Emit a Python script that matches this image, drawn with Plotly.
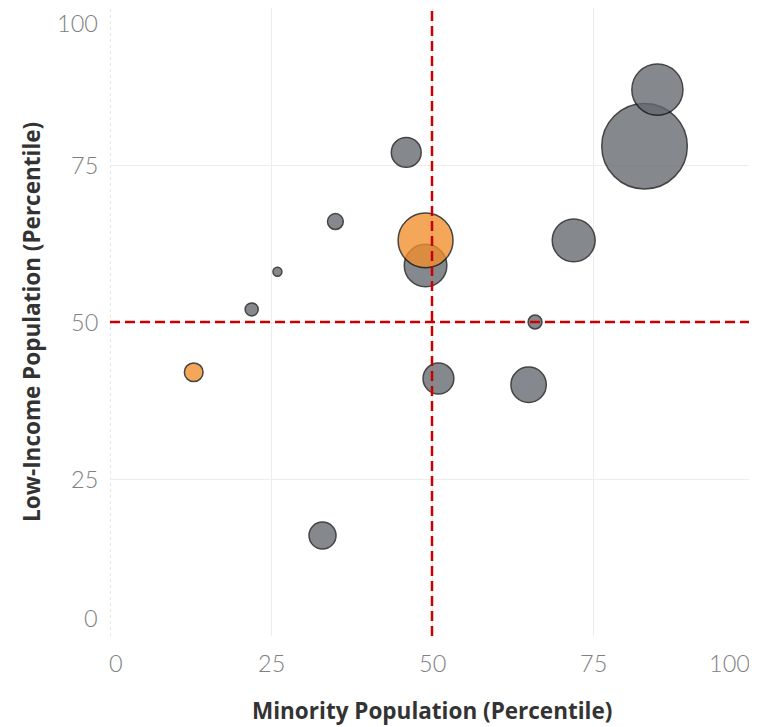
import plotly.graph_objects as go

# Data
grey_x = [83, 85, 46, 49, 72, 66, 35, 26, 22, 51, 65, 33]
grey_y = [78, 87, 77, 59, 63, 50, 66, 58, 52, 41, 40, 16]
grey_size = [731, 261, 89, 181, 184, 19, 25, 8, 17, 95, 125, 73]

orange_x = [49, 13]
orange_y = [63, 42]
orange_size = [301, 35]

threshold_x = 50
threshold_y = 50

tick_vals = [0, 25, 50, 75, 100]
tick_text = ["0", "25", "50", "75", "100"]
# per-label nudges (Tableau keeps edge labels inside the view)
x_tick_shift = [6, 0, 0, 0, -25]
y_tick_shift = [18, 0, 0, 0, -15]

x_title = "Minority Population (Percentile)"
y_title = "Low-Income Population (Percentile)"

SIZEREF = 0.2
TICK_FONT = dict(family="Lato", size=23.5, color="#808080", weight=300)
TITLE_FONT = dict(family="Open Sans", size=22.5, color="#333333", weight="bold")

fig = go.Figure()
fig.add_trace(go.Scatter(
    x=grey_x, y=grey_y, mode="markers",
    marker=dict(size=grey_size, sizemode="area", sizeref=SIZEREF,
                color="#64676e", opacity=0.78,
                line=dict(color="#111111", width=1.5)),
    showlegend=False, hoverinfo="x+y"))
fig.add_trace(go.Scatter(
    x=orange_x, y=orange_y, mode="markers",
    marker=dict(size=orange_size, sizemode="area", sizeref=SIZEREF,
                color="#f28e2b", opacity=0.78,
                line=dict(color="#111111", width=1.5)),
    showlegend=False, hoverinfo="x+y"))

red = dict(color="#c80000", width=2.5, dash="10px,5px")
fig.add_shape(type="line", xref="x", yref="paper", x0=threshold_x, x1=threshold_x,
              y0=0, y1=1, line=red, layer="above")
fig.add_shape(type="line", xref="paper", yref="y", x0=0, x1=1,
              y0=threshold_y, y1=threshold_y, line=red, layer="above")
# dotted left axis line
fig.add_shape(type="line", xref="x", yref="paper", x0=tick_vals[0], x1=tick_vals[0],
              y0=0, y1=1, line=dict(color="#cfcfcf", width=1, dash="dot"), layer="below")

annotations = []
for v, t, s in zip(tick_vals, tick_text, x_tick_shift):
    annotations.append(dict(x=v, y=0, xref="x", yref="paper", text=t, showarrow=False,
                            xanchor="center", yanchor="middle", yshift=-27, xshift=s,
                            font=TICK_FONT))
for v, t, s in zip(tick_vals, tick_text, y_tick_shift):
    annotations.append(dict(x=0, y=v, xref="paper", yref="y", text=t, showarrow=False,
                            xanchor="right", yanchor="middle", xshift=-10, yshift=s,
                            font=TICK_FONT))
annotations.append(dict(x=0.5, y=0, xref="paper", yref="paper", text=x_title,
                        showarrow=False, xanchor="center", yanchor="middle",
                        yshift=-74, font=TITLE_FONT))
annotations.append(dict(x=0, y=0.5, xref="paper", yref="paper", text=y_title,
                        showarrow=False, xanchor="center", yanchor="middle",
                        xshift=-79, textangle=-90, font=TITLE_FONT))

fig.update_layout(
    width=749, height=719,
    margin=dict(l=102, r=3, t=0, b=91),
    paper_bgcolor="white", plot_bgcolor="white",
    annotations=annotations,
    xaxis=dict(range=[0, 100], tickvals=tick_vals, showticklabels=False,
               showgrid=True, gridcolor="#ededed", gridwidth=1,
               zeroline=False, showline=False, ticks=""),
    yaxis=dict(range=[0, 100], tickvals=tick_vals, showticklabels=False,
               showgrid=True, gridcolor="#ededed", gridwidth=1,
               zeroline=False, showline=False, ticks=""),
)

fig.write_html("out.html")
